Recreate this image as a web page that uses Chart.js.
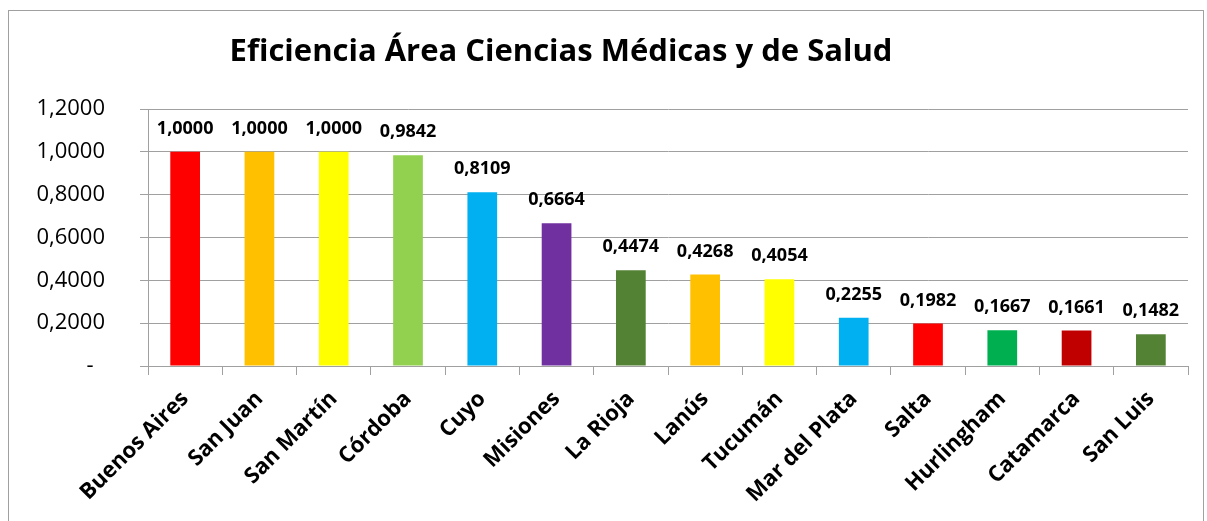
<!DOCTYPE html>
<html>
<head>
<meta charset="utf-8">
<script src="https://cdn.jsdelivr.net/npm/chart.js@4"></script>
<style>
html,body{margin:0;padding:0;background:#fff;}
#wrap{width:1207px;height:521px;position:relative;}
</style>
</head>
<body>
<div id="wrap"><canvas id="c" width="1207" height="521"></canvas></div>
<script>
const title = "Eficiencia Área Ciencias Médicas y de Salud";
const categories = ["Buenos Aires","San Juan","San Martín","Córdoba","Cuyo","Misiones","La Rioja","Lanús","Tucumán","Mar del Plata","Salta","Hurlingham","Catamarca","San Luis"];
const values = [1.0000,1.0000,1.0000,0.9842,0.8109,0.6664,0.4474,0.4268,0.4054,0.2255,0.1982,0.1667,0.1661,0.1482];
const barColors = ["#FF0000","#FFC000","#FFFF00","#92D050","#00B0F0","#7030A0","#548235","#FFC000","#FFFF00","#00B0F0","#FF0000","#00B050","#C00000","#548235"];
const yTicks = [0,0.2,0.4,0.6,0.8,1.0,1.2];

const FONT = "'Open Sans', 'Liberation Sans', sans-serif";
const fmt = v => v === 0 ? "-  " : v.toFixed(4).replace(".", ",");

const framePlugin = {
  id: "frame",
  beforeDraw(chart) {
    const ctx = chart.ctx;
    ctx.save();
    ctx.fillStyle = "#fff";
    ctx.fillRect(0, 0, chart.width, chart.height);
    ctx.strokeStyle = "#a0a0a0";
    ctx.lineWidth = 1;
    ctx.strokeRect(8.5, 10.5, 1195, 530);
    ctx.restore();
  },
  afterDraw(chart) {
    const ctx = chart.ctx;
    ctx.save();
    ctx.fillStyle = "#000";
    ctx.font = "bold 31px " + FONT;
    ctx.textAlign = "center";
    ctx.textBaseline = "middle";
    ctx.fillText(title, 561, 52);
    ctx.restore();
  }
};

const labelPlugin = {
  id: "barLabels",
  afterDatasetsDraw(chart) {
    const ctx = chart.ctx;
    const meta = chart.getDatasetMeta(0);
    ctx.save();
    ctx.fillStyle = "#000";
    ctx.font = "bold 18px " + FONT;
    ctx.textAlign = "center";
    ctx.textBaseline = "middle";
    meta.data.forEach((bar, i) => {
      ctx.fillText(fmt(values[i]), bar.x, bar.y - 23);
    });
    ctx.restore();
  }
};

new Chart(document.getElementById("c"), {
  type: "bar",
  data: {
    labels: categories,
    datasets: [{
      data: values,
      backgroundColor: barColors,
      borderWidth: 0,
      categoryPercentage: 1.0,
      barPercentage: 0.4
    }]
  },
  options: {
    responsive: false,
    animation: false,
    layout: { padding: { top: 109, right: 19, left: 0, bottom: 0 } },
    plugins: { legend: { display: false }, title: { display: false }, tooltip: { enabled: false } },
    scales: {
      x: {
        grid: { display: true, drawOnChartArea: false, drawTicks: true, tickLength: 9, color: "#a0a0a0", offset: true },
        border: { display: true, color: "#a0a0a0" },
        ticks: {
          color: "#000",
          font: { family: FONT, size: 22, weight: "bold" },
          maxRotation: 45, minRotation: 45, autoSkip: false, padding: 11
        },
        afterFit(scale) { scale.height = 155; }
      },
      y: {
        min: 0, max: 1.2,
        afterBuildTicks(scale) { scale.ticks = yTicks.map(v => ({ value: v })); },
        grid: { color: "#a0a0a0", tickLength: 8, drawTicks: true },
        border: { display: true, color: "#a0a0a0" },
        ticks: {
          color: "#000",
          font: { family: FONT, size: 22 },
          padding: 35,
          callback: v => fmt(v)
        },
        afterFit(scale) { scale.width = 148; }
      }
    }
  },
  plugins: [framePlugin, labelPlugin]
});
</script>
</body>
</html>
